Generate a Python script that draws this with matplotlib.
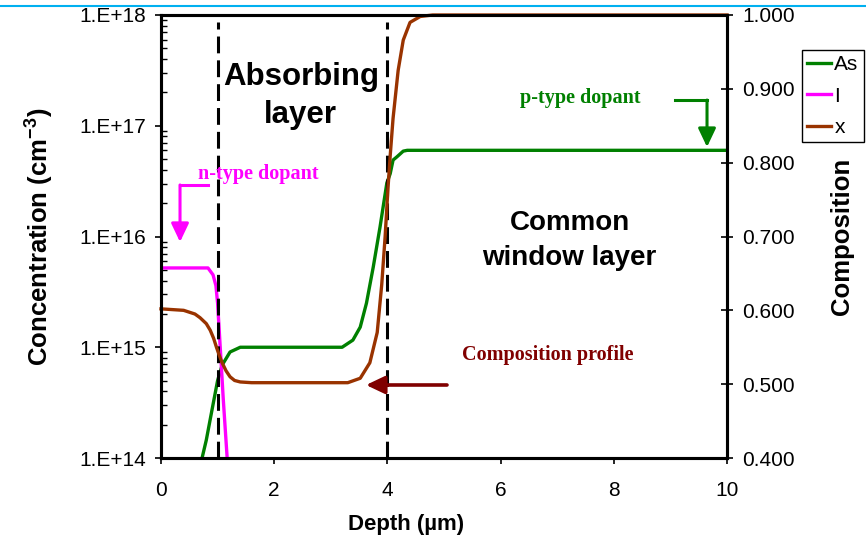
import matplotlib
matplotlib.use("Agg")
import matplotlib.pyplot as plt
from matplotlib.lines import Line2D

plt.rcParams["font.family"] = ["Liberation Sans", "DejaVu Sans"]
plt.rcParams["mathtext.fontset"] = "custom"
plt.rcParams["mathtext.rm"] = "Liberation Sans"
plt.rcParams["mathtext.bf"] = "Liberation Sans:bold"

# --- arsenic (p-type) profile, cm^-3 ---
depth_as = [0.70, 0.80, 0.90, 1.00, 1.08, 1.22, 1.40, 2.00, 3.20, 3.39, 3.52,
            3.63, 3.75, 3.87, 3.99, 4.05, 4.10, 4.17, 4.28, 4.35, 6.00, 10.0]
conc_as = [8.8e13, 1.45e14, 2.7e14, 5.0e14, 6.9e14, 9.06e14, 1.0e15, 1.0e15,
           1.0e15, 1.16e15, 1.52e15, 2.5e15, 5.3e15, 1.22e16, 3.04e16, 3.7e16,
           4.9e16, 5.25e16, 5.9e16, 6.0e16, 6.0e16, 6.0e16]

# --- iodine (n-type) profile, cm^-3 ---
depth_i = [0.0, 0.83, 0.92, 0.97, 1.00, 1.05, 1.10, 1.17, 1.22]
conc_i = [5.2e15, 5.2e15, 4.5e15, 3.6e15, 2.5e15, 9.3e14, 3.4e14, 9.8e13, 5.0e13]

# --- composition x ---
depth_x = [0.0, 0.40, 0.60, 0.69, 0.80, 0.87, 0.93, 0.98, 1.03, 1.08, 1.15,
           1.22, 1.30, 1.40, 1.60, 3.30, 3.52, 3.69, 3.82, 3.90, 3.96, 4.01,
           4.05, 4.10, 4.19, 4.28, 4.40, 4.58, 4.80, 10.0]
comp_x = [0.602, 0.600, 0.595, 0.590, 0.582, 0.573, 0.562, 0.550, 0.539, 0.529,
          0.518, 0.510, 0.505, 0.503, 0.502, 0.502, 0.508, 0.529, 0.570, 0.635,
          0.700, 0.765, 0.810, 0.860, 0.925, 0.966, 0.990, 0.998, 1.000, 1.000]

layer_boundaries = [1.0, 4.0]
x_ticks = [0, 2, 4, 6, 8, 10]
left_ticks = [1e14, 1e15, 1e16, 1e17, 1e18]
left_ticklabels = ["1.E+14", "1.E+15", "1.E+16", "1.E+17", "1.E+18"]
right_ticks = [0.4, 0.5, 0.6, 0.7, 0.8, 0.9, 1.0]
right_ticklabels = ["0.400", "0.500", "0.600", "0.700", "0.800", "0.900", "1.000"]

c_as = "#008000"
c_i = "#FF00FF"
c_x = "#993300"
c_prof = "#800000"

fig = plt.figure(figsize=(8.66, 5.44), dpi=100)
ax = fig.add_axes([161 / 866, 1 - 458 / 544, 566 / 866, 443 / 544])
ax2 = ax.twinx()

ax.set_yscale("log")
ax.set_xlim(0, 10)
ax.set_ylim(1e14, 1e18)
ax2.set_ylim(0.4, 1.0)

l_as, = ax.plot(depth_as, conc_as, color=c_as, lw=2.4, label="As")
l_i, = ax.plot(depth_i, conc_i, color=c_i, lw=2.4, label="I")
l_x, = ax2.plot(depth_x, comp_x, color=c_x, lw=2.4, label="x", clip_on=False)

for b in layer_boundaries:
    ax.axvline(b, ymin=0, ymax=0.985, color="black", lw=2.2, dashes=(5.5, 2.3))

for ax_ in (ax, ax2):
    for sp in ax_.spines.values():
        sp.set_linewidth(2.2)
        sp.set_color("black")

ax.set_xticks(x_ticks)
ax.set_xticklabels([str(t) for t in x_ticks])
ax.set_yticks(left_ticks)
ax.set_yticklabels(left_ticklabels)
ax.tick_params(axis="x", direction="out", length=4.5, width=1.2, pad=12, labelsize=15)
ax.tick_params(axis="y", which="major", direction="out", length=4.5, width=1.2,
               pad=6, labelsize=15)
ax.tick_params(axis="y", which="minor", direction="in", length=4.5, width=1.0)

ax2.set_yticks(right_ticks)
ax2.set_yticklabels(right_ticklabels)
ax2.tick_params(axis="y", direction="inout", length=9, width=1.2, pad=6.5, labelsize=15)

ax.set_xlabel("Depth (µm)", fontsize=16, fontweight="bold")
ax.xaxis.set_label_coords(0.433, -0.149)
ax.xaxis.label.set_va("center")
ax.set_ylabel(r"Concentration (cm$^{\mathbf{-3}}$)", fontsize=18.5, fontweight="bold")
ax.yaxis.set_label_coords(-0.217, 0.5)
ax.yaxis.label.set_va("center")
ax2.set_ylabel("Composition", fontsize=18.5, fontweight="bold")
ax2.yaxis.set_label_coords(1.203, 0.5)
ax2.yaxis.label.set_va("center")

# region titles
ax.text(2.47, 0.818, "Absorbing\nlayer", transform=ax.get_xaxis_transform(),
        ha="center", va="center", fontsize=22.5, fontweight="bold", linespacing=1.35)
ax.text(7.22, 0.49, "Common\nwindow layer", transform=ax.get_xaxis_transform(),
        ha="center", va="center", fontsize=20, fontweight="bold", linespacing=1.45)

# dopant / composition callouts
serif = ["Liberation Serif", "DejaVu Serif"]
ax.text(0.066, 0.64, "n-type dopant", transform=ax.transAxes, color=c_i,
        fontsize=14.5, fontweight="bold", family=serif, va="center", ha="left")
ax.text(0.634, 0.812, "p-type dopant", transform=ax.transAxes, color=c_as,
        fontsize=14.5, fontweight="bold", family=serif, va="center", ha="left")
ax.text(0.532, 0.233, "Composition profile", transform=ax.transAxes, color=c_prof,
        fontsize=14.5, fontweight="bold", family=serif, va="center", ha="left")

arrow_kw = dict(arrowstyle="-|>,head_length=0.8,head_width=0.38", mutation_scale=14,
                shrinkA=0, shrinkB=0)
# n-type: bent arrow
ax.plot([0.083, 0.0336], [0.6163, 0.6163], transform=ax.transAxes, color=c_i,
        lw=2.2, solid_capstyle="projecting")
ax.annotate("", xy=(0.0336, 0.4876), xytext=(0.0336, 0.6163),
            xycoords="axes fraction", textcoords="axes fraction",
            arrowprops=dict(color=c_i, lw=2.2, **arrow_kw))
# p-type: bent arrow
ax.plot([0.908, 0.9647], [0.808, 0.808], transform=ax.transAxes, color=c_as,
        lw=2.2, solid_capstyle="projecting")
ax.annotate("", xy=(0.9647, 0.702), xytext=(0.9647, 0.808),
            xycoords="axes fraction", textcoords="axes fraction",
            arrowprops=dict(color=c_as, lw=2.2, **arrow_kw))
# composition profile arrow
ax.annotate("", xy=(0.3622, 0.1648), xytext=(0.5053, 0.1648),
            xycoords="axes fraction", textcoords="axes fraction",
            arrowprops=dict(color=c_prof, lw=2.6, **arrow_kw))

leg = fig.legend(handles=[l_as, l_i, l_x], loc="upper left",
                 bbox_to_anchor=(802 / 866, 1 - 50 / 544), fontsize=15,
                 frameon=True, fancybox=False, framealpha=1, edgecolor="black",
                 handlelength=1.15, handletextpad=0.15, labelspacing=0.6,
                 borderpad=0.25, borderaxespad=0)
leg.get_frame().set_linewidth(1.0)

# thin blue rule across the top of the page
fig.add_artist(Line2D([0, 1], [1 - 6 / 544] * 2, transform=fig.transFigure,
                      color="#00B0F0", lw=1.5))

fig.savefig("out.png", dpi=100)
